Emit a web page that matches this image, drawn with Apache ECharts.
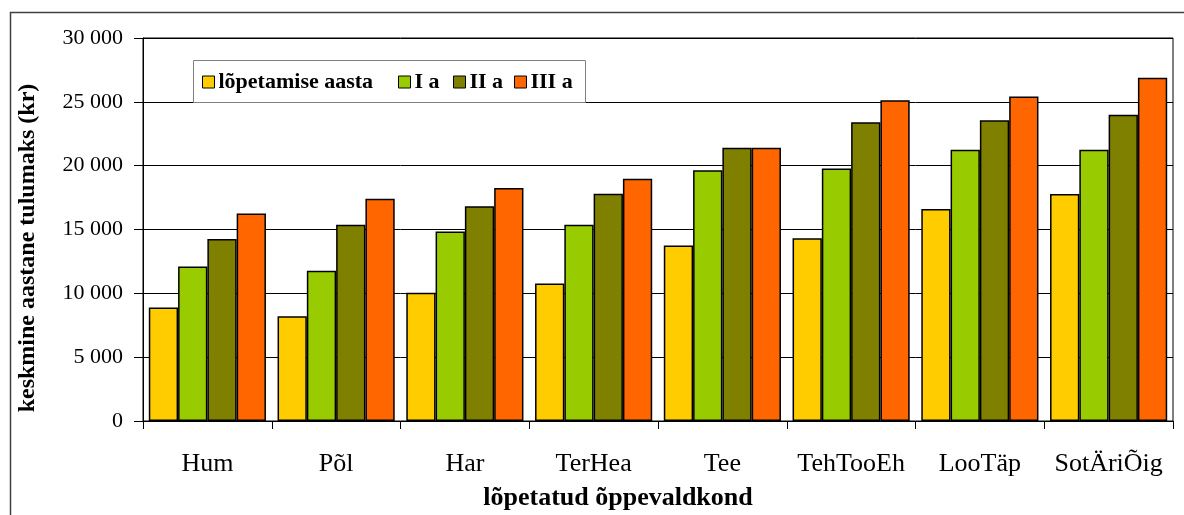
<!DOCTYPE html>
<html><head><meta charset="utf-8">
<script src="https://cdn.jsdelivr.net/npm/echarts@6/dist/echarts.min.js"></script>
<style>html,body{margin:0;padding:0;background:#fff}#c{width:1184px;height:515px}</style>
</head><body><div id="c"></div>
<script>
const categories = ['Hum','Põl','Har','TerHea','Tee','TehTooEh','LooTäp','SotÄriÕig'];
const seriesNames = ['lõpetamise aasta','I a','II a','III a'];
const lopetamiseAasta = [8900, 8200, 10050, 10780, 13740, 14320, 16610, 17790];
const Ia = [12110, 11770, 14840, 15370, 19650, 19780, 21240, 21240];
const IIa = [14250, 15370, 16820, 17810, 21400, 23410, 23560, 23980];
const IIIa = [16250, 17400, 18250, 18980, 21400, 25130, 25420, 26880];
const yTicks = [0, 5000, 10000, 15000, 20000, 25000, 30000];
const xTitle = 'lõpetatud õppevaldkond';
const yTitle = 'keskmine aastane tulumaks (kr)';
const colors = ['#FFCC00','#99CC00','#808000','#FF6600'];
const values = [lopetamiseAasta, Ia, IIa, IIIa];
const FONT = '"Liberation Serif", "Times New Roman", serif';
const legendLefts = [202, 398, 453, 514];

const chart = echarts.init(document.getElementById('c'), null, {renderer:'canvas'});
chart.setOption({
  animation: false,
  backgroundColor: '#fff',
  textStyle: {fontFamily: FONT},
  graphic: [
    {type: 'rect', left: 8, top: 10, shape: {width: 1200, height: 600},
     style: {fill: 'none', stroke: '#404040', lineWidth: 1.5}, silent: true, z: -1},
    {type: 'rect', left: 193, top: 60, shape: {width: 392, height: 42},
     style: {fill: '#fff', stroke: '#808080', lineWidth: 1}, silent: true, z: 5},
    {type: 'text', x: 28, y: 248, rotation: Math.PI/2, silent: true, z: 10,
     style: {text: yTitle, font: 'bold 24px ' + FONT, fill: '#000', align: 'center', verticalAlign: 'middle'}},
    {type: 'text', x: 618, y: 498, silent: true, z: 10,
     style: {text: xTitle, font: 'bold 26px ' + FONT, fill: '#000', align: 'center', verticalAlign: 'middle'}}
  ],
  grid: {left: 143, top: 38, width: 1030, height: 383, show: true, borderColor: '#000', borderWidth: 1, backgroundColor: 'transparent'},
  legend: seriesNames.map((n, i) => ({
    data: [n], left: legendLefts[i], top: 71, padding: 0, z: 6,
    itemWidth: 12, itemHeight: 12, itemGap: 0, icon: 'rect',
    textStyle: {fontFamily: FONT, fontWeight: 'bold', fontSize: 22, color: '#000', padding: [0, 0, 0, -1]},
    itemStyle: {borderColor: '#000', borderWidth: 1}
  })),
  xAxis: {
    type: 'category', data: categories,
    axisLine: {lineStyle: {color: '#000', width: 1}},
    axisTick: {show: true, length: 8, interval: 0, alignWithLabel: false, lineStyle: {color: '#000'}},
    axisLabel: {interval: 0, fontFamily: FONT, fontSize: 26, color: '#000', margin: 30}
  },
  yAxis: {
    type: 'value', min: yTicks[0], max: yTicks[yTicks.length-1], interval: 5000,
    axisLine: {show: true, lineStyle: {color: '#000', width: 1}},
    axisTick: {show: true, length: 9, lineStyle: {color: '#000'}},
    splitLine: {show: true, lineStyle: {color: '#000', width: 1}},
    axisLabel: {fontFamily: FONT, fontSize: 22, color: '#000', margin: 20,
      formatter: v => String(v).replace(/\B(?=(\d{3})+(?!\d))/g, ' ')}
  },
  series: seriesNames.map((n, i) => ({
    name: n, type: 'bar', data: values[i],
    barGap: '0%', barCategoryGap: '9%',
    itemStyle: {color: colors[i], borderColor: '#000', borderWidth: 1.5}
  }))
});
</script></body></html>
